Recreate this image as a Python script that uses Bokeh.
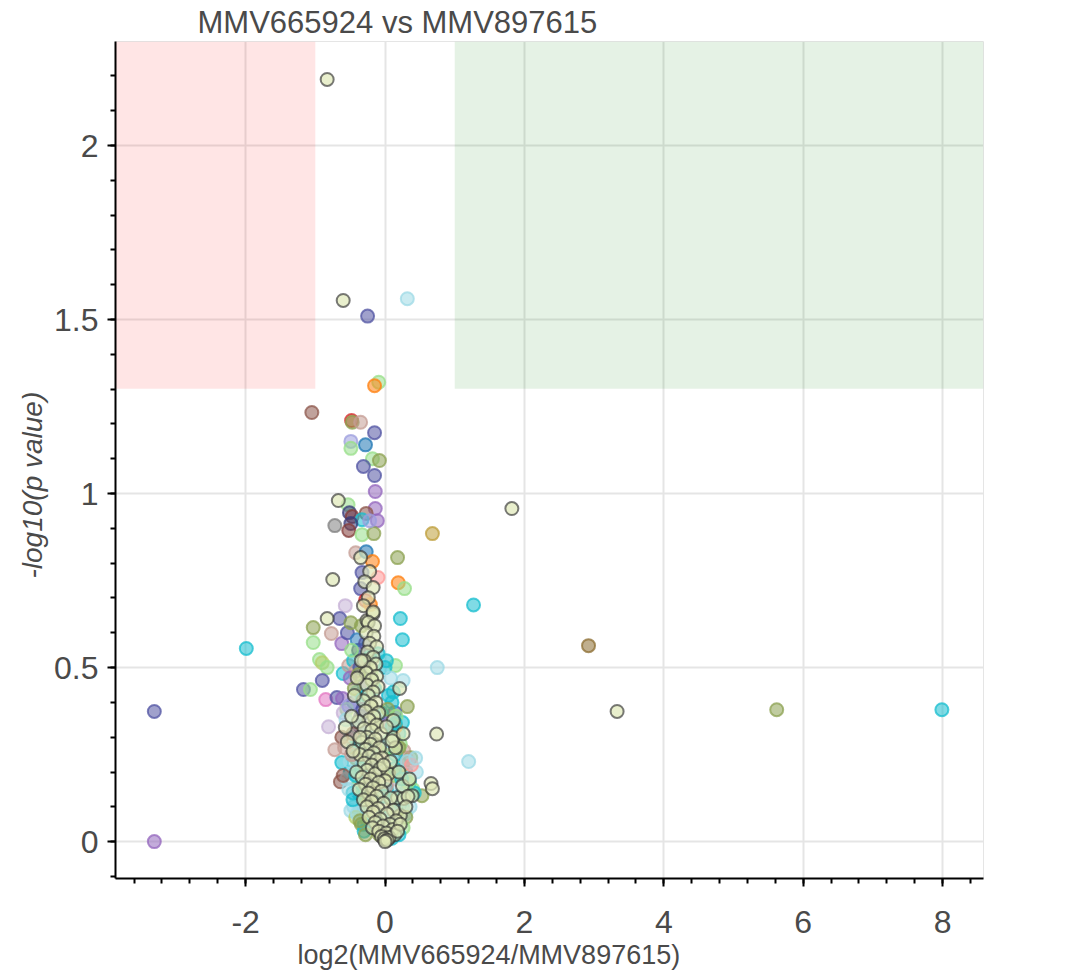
from bokeh.plotting import figure
from bokeh.models import BoxAnnotation, Range1d, ColumnDataSource, Title, CustomJSTickFormatter
from bokeh.embed import file_html
from bokeh.resources import INLINE

# palette keys
COLORS = {
    "indigo": "#5254a3", "navy": "#393b79", "lavender": "#9c9ede", "lilac": "#c5b0d5",
    "olive": "#8ca252", "lolive": "#b5cf6b", "dolive": "#637939",
    "gold": "#bd9e39", "dgold": "#8c6d31",
    "brown": "#8c564b", "lbrown": "#c49c94", "dbrown": "#843c39",
    "red": "#d62728", "orange": "#ff7f0e", "lgreen": "#98df8a", "blue": "#1f77b4",
    "purple": "#9467bd", "pink": "#e377c2", "lred": "#ff9896", "gray": "#7f7f7f",
    "cyan": "#17becf", "lcyan": "#9edae5", "teal": "#3182bd",
}

# coloured proteins: log2 ratio, -log10 p, colour key
pts_x = [0.32, -0.25, -0.09, -0.15, -1.05, -0.48, -0.47, -0.35, -0.15, -0.49,
         -0.49, -0.28, -0.18, -0.08, -0.31, -0.15, -0.14, -0.14, -0.53, -0.51,
         -0.47, -0.27, -0.33, -0.11, -0.72, -0.49, -0.52, -0.33, -0.16, -0.22,
         0.68, -0.42, -0.27, -0.18, 0.18, -0.33, -0.10, 0.19, 0.28, -0.35,
         -0.57, -0.28, -0.21, -0.65, -1.03, -1.03, -0.77, -0.62, -0.54, -0.49,
         0.22, 0.25, -0.94, -0.90, -0.83, 0.15, 0.75, -0.90, -1.17, -1.07,
         -0.85, -0.69, -0.61, -0.60, -0.52, 0.26, 0.32, 0.14, 0.25, -0.81,
         -0.72, -0.62, 0.27, 0.37, -0.64, -0.22, 0.53, -0.49, -0.11, -3.31,
         -3.31, -1.99, 1.27, 2.92, 5.62, 7.99, 1.20,
         -0.45, -0.35, -0.42, -0.50, -0.30, 0.00, -0.20, -0.10, -0.25, -0.38,
         0.05, -0.05, -0.45, -0.55, -0.35, -0.60, -0.15, -0.20, -0.40, 0.10,
         0.20, -0.50, -0.62, -0.10, -0.35, 0.10, 0.15, -0.45, 0.00, -0.25, 0.05,
         -0.50, -0.55, -0.40, 0.30, 0.35, 0.40, 0.25, -0.30, 0.30, 0.15,
         -0.60, -0.25, 0.15, 0.45, -0.20,
         -0.30, -0.35, 0.25, 0.30, -0.20, 0.10, -0.20, -0.25, 0.20, -0.45,
         0.15, -0.15, 0.05, 0.10, -0.08, 0.18, -0.38, 0.22, -0.12, 0.02,
         -0.56, -0.44, 0.12, -0.28, -0.05, 0.08, -0.33, 0.28, -0.16, 0.06,
         -0.40, -0.48, -0.36, -0.44, -0.32, -0.52, -0.40, -0.46, -0.30, -0.58,
         -0.42, -0.34, -0.50, -0.28, -0.38, -0.46, -0.24, -0.36, -0.42, -0.30,
         0.02, 0.08, 0.12, 0.04, 0.16, 0.10, 0.06, 0.20, 0.14, 0.02,
         -0.02, 0.09, 0.18, 0.24, 0.12, 0.28, 0.22, 0.05, 0.32, 0.15,
         -0.34, -0.28, -0.22, -0.38, -0.18, -0.26, -0.32, -0.14, -0.24, -0.20,
         -0.52, -0.46, -0.40, -0.34, -0.30, 0.36, 0.42, 0.30, 0.26, 0.38,
         -0.48, -0.42, 0.33, 0.44, 0.20, -0.36, 0.24, 0.16, -0.28, 0.10]
pts_y = [1.56, 1.51, 1.32, 1.31, 1.233, 1.21, 1.205, 1.205, 1.175, 1.15,
         1.13, 1.14, 1.10, 1.095, 1.078, 1.052, 1.006, 0.957, 0.968, 0.945,
         0.934, 0.943, 0.925, 0.922, 0.908, 0.914, 0.894, 0.882, 0.885, 0.922,
         0.885, 0.83, 0.833, 0.805, 0.816, 0.773, 0.759, 0.744, 0.727, 0.727,
         0.678, 0.693, 0.681, 0.641, 0.615, 0.572, 0.598, 0.569, 0.60, 0.629,
         0.641, 0.58, 0.523, 0.514, 0.50, 0.506, 0.50, 0.463, 0.437, 0.437,
         0.408, 0.414, 0.411, 0.483, 0.506, 0.463, 0.388, 0.371, 0.342, 0.33,
         0.264, 0.227, 0.261, 0.241, 0.172, 0.161, 0.132, 0.089, 0.06, 0.374,
         0.0, 0.555, 0.68, 0.563, 0.379, 0.379, 0.23,
         0.52, 0.53, 0.49, 0.47, 0.45, 0.50, 0.48, 0.54, 0.52, 0.55,
         0.42, 0.37, 0.40, 0.38, 0.36, 0.37, 0.44, 0.39, 0.43, 0.40,
         0.31, 0.30, 0.30, 0.28, 0.33, 0.30, 0.33, 0.27, 0.26, 0.30, 0.34,
         0.20, 0.18, 0.22, 0.20, 0.17, 0.15, 0.22, 0.17, 0.24, 0.18,
         0.19, 0.20, 0.25, 0.20, 0.24,
         0.10, 0.13, 0.10, 0.08, 0.12, 0.12, 0.08, 0.06, 0.13, 0.10,
         0.06, 0.04, 0.03, 0.09, 0.02, 0.16, 0.14, 0.28, 0.21, 0.15,
         0.35, 0.26, 0.19, 0.12, 0.07, 0.05, 0.22, 0.14, 0.18, 0.27,
         0.58, 0.55, 0.50, 0.44, 0.41, 0.39, 0.34, 0.31, 0.29, 0.27,
         0.24, 0.21, 0.23, 0.18, 0.16, 0.14, 0.11, 0.09, 0.07, 0.05,
         0.52, 0.47, 0.43, 0.38, 0.36, 0.33, 0.29, 0.27, 0.21, 0.16,
         0.13, 0.07, 0.09, 0.12, 0.04, 0.16, 0.11, 0.20, 0.23, 0.34,
         0.62, 0.57, 0.53, 0.48, 0.46, 0.42, 0.38, 0.34, 0.31, 0.26,
         0.15, 0.12, 0.08, 0.05, 0.03, 0.10, 0.14, 0.07, 0.04, 0.22,
         0.25, 0.19, 0.17, 0.24, 0.02, 0.06, 0.18, 0.11, 0.02, 0.01]
pts_c = ["lcyan", "indigo", "lgreen", "orange", "brown", "red", "olive", "lbrown", "indigo", "lavender",
         "lgreen", "blue", "lgreen", "olive", "indigo", "indigo", "purple", "purple", "lgreen", "navy",
         "dbrown", "brown", "cyan", "purple", "gray", "navy", "dbrown", "lgreen", "olive", "lavender",
         "gold", "lbrown", "blue", "orange", "olive", "indigo", "lred", "orange", "lgreen", "indigo",
         "lilac", "red", "orange", "indigo", "olive", "lgreen", "lbrown", "purple", "indigo", "olive",
         "cyan", "cyan", "lgreen", "lolive", "lgreen", "lgreen", "lcyan", "indigo", "indigo", "lgreen",
         "pink", "indigo", "purple", "cyan", "lbrown", "lcyan", "olive", "indigo", "cyan", "lilac",
         "lbrown", "cyan", "lbrown", "olive", "brown", "gold", "olive", "lcyan", "gold", "indigo",
         "purple", "cyan", "cyan", "dgold", "olive", "cyan", "lcyan",
         "cyan", "lcyan", "lbrown", "purple", "indigo", "cyan", "lgreen", "cyan", "olive", "navy",
         "cyan", "cyan", "indigo", "lgreen", "indigo", "lilac", "cyan", "olive", "lcyan", "cyan",
         "cyan", "lcyan", "brown", "olive", "indigo", "lgreen", "orange", "cyan", "lbrown", "cyan", "purple",
         "cyan", "lcyan", "lcyan", "cyan", "cyan", "lgreen", "olive", "indigo", "lbrown", "lred",
         "brown", "gold", "cyan", "lcyan", "navy",
         "cyan", "lcyan", "cyan", "lcyan", "olive", "olive", "gold", "lgreen", "cyan", "lcyan",
         "cyan", "dolive", "cyan", "lbrown", "olive", "lcyan", "cyan", "lgreen", "indigo", "cyan",
         "lcyan", "cyan", "lolive", "olive", "cyan", "lcyan", "lcyan", "cyan", "olive", "lgreen",
         "teal", "lgreen", "indigo", "olive", "cyan", "lavender", "lcyan", "brown", "cyan", "lbrown",
         "olive", "cyan", "lcyan", "indigo", "lgreen", "cyan", "olive", "lcyan", "lolive", "cyan",
         "cyan", "lcyan", "cyan", "olive", "lgreen", "cyan", "lcyan", "olive", "cyan", "lbrown",
         "cyan", "lcyan", "olive", "cyan", "lgreen", "lcyan", "cyan", "olive", "lcyan", "cyan",
         "olive", "indigo", "cyan", "olive", "lgreen", "cyan", "indigo", "olive", "lcyan", "cyan",
         "lcyan", "cyan", "lcyan", "olive", "cyan", "lcyan", "cyan", "olive", "lgreen", "lred",
         "lbrown", "cyan", "lgreen", "lcyan", "cyan", "olive", "cyan", "lcyan", "olive", "cyan"]

# highlighted proteins (outlined)
hl_x = [-0.83, -0.60, -0.67, 1.82, 3.33, 0.74, 0.66, 0.68,
        -0.35, -0.22, -0.75, -0.29, -0.17, -0.24, -0.31, -0.83, -0.26, -0.17,
        0.21, 0.12, -0.57, 0.12, -0.54, 0.05, 0.18, 0.27, 0.39, 0.22, 0.05,
        -0.17, -0.24, -0.15, -0.27, -0.16, -0.22, -0.12, -0.25, -0.17, -0.30,
        -0.13, -0.21, -0.27, -0.12, -0.19, -0.26, -0.10, -0.17, -0.24, -0.31,
        -0.13, -0.20, -0.28, -0.09, -0.16, -0.23, -0.38, -0.12, -0.30, -0.19,
        -0.06, -0.26, -0.14, -0.33, -0.21, -0.08, -0.28, -0.16, -0.36, -0.23,
        -0.04, -0.12, -0.30, -0.19, -0.07, -0.26, -0.41, -0.14, -0.33, -0.21,
        0.00, -0.09, -0.28, -0.17, -0.37, -0.05, -0.24, -0.12, 0.08, -0.31,
        -0.19, -0.02, -0.26, -0.10, 0.12, -0.17, 0.03, -0.23, -0.07, 0.16,
        -0.14, 0.07, -0.03, -0.18, 0.11, -0.09, 0.02, 0.14, -0.05, 0.06,
        -0.01, 0.03, 0.00, 0.20, 0.25, 0.33, 0.15, 0.08, 0.30, 0.22, 0.18, 0.35,
        -0.44, -0.36, -0.46, -0.40, 0.02, 0.10, -0.02, 0.26, -0.48, -0.34]
hl_y = [2.19, 1.555, 0.98, 0.957, 0.374, 0.309, 0.167, 0.152,
        0.816, 0.776, 0.753, 0.747, 0.73, 0.701, 0.678, 0.641, 0.635, 0.655,
        0.44, 0.348, 0.328, 0.299, 0.287, 0.195, 0.126, 0.124, 0.132, 0.075, 0.011,
        0.66, 0.63, 0.62, 0.60, 0.59, 0.57, 0.56, 0.545, 0.53, 0.52,
        0.51, 0.50, 0.485, 0.475, 0.465, 0.45, 0.445, 0.43, 0.42, 0.405,
        0.40, 0.39, 0.375, 0.37, 0.36, 0.35, 0.345, 0.335, 0.325, 0.32,
        0.31, 0.30, 0.295, 0.285, 0.28, 0.27, 0.265, 0.255, 0.25, 0.245,
        0.24, 0.235, 0.225, 0.22, 0.21, 0.205, 0.20, 0.195, 0.185, 0.18,
        0.175, 0.17, 0.165, 0.155, 0.15, 0.145, 0.14, 0.13, 0.125, 0.12,
        0.115, 0.11, 0.10, 0.095, 0.09, 0.085, 0.08, 0.07, 0.065, 0.06,
        0.055, 0.05, 0.045, 0.04, 0.035, 0.03, 0.025, 0.02, 0.015, 0.012,
        0.008, 0.004, 0.0, 0.20, 0.16, 0.13, 0.27, 0.23, 0.10, 0.05, 0.03, 0.18,
        0.42, 0.30, 0.26, 0.47, 0.33, 0.29, 0.22, 0.31, 0.36, 0.52]

title_text = "MMV665924 vs MMV897615"
x_label = "log2(MMV665924/MMV897615)"
y_label = "-log10(p value)"
p_threshold = 1.301   # -log10(0.05)
fc_threshold = 1.0

FONT = "Liberation Sans"
TXT = "#4a4a4a"

p = figure(width=1048, height=975, output_backend="svg", toolbar_location=None,
           x_range=Range1d(-3.867, 8.587), y_range=Range1d(-0.106, 2.299),
           min_border_left=115, min_border_right=65, min_border_top=41, min_border_bottom=97)

p.title.text = title_text
p.title.text_font = FONT
p.title.text_font_size = "31px"
p.title.text_font_style = "normal"
p.title.text_color = TXT
p.title.align = "left"
p.title.offset = 82
p.title.standoff = 3

p.add_layout(BoxAnnotation(right=-fc_threshold, bottom=p_threshold, fill_color="red",
                           fill_alpha=0.1, line_color=None, level="underlay"))
p.add_layout(BoxAnnotation(left=fc_threshold, bottom=p_threshold, fill_color="green",
                           fill_alpha=0.1, line_color=None, level="underlay"))

cols = [COLORS[c] for c in pts_c]
src = ColumnDataSource(dict(x=pts_x, y=pts_y, c=cols))
p.scatter("x", "y", source=src, size=13, fill_color="c", line_color="c",
          fill_alpha=0.55, line_alpha=0.75, line_width=2)
hsrc = ColumnDataSource(dict(x=hl_x, y=hl_y))
p.scatter("x", "y", source=hsrc, size=13, fill_color="#dfe8b8", fill_alpha=0.7,
          line_color="#333333", line_alpha=0.65, line_width=2)

p.outline_line_color = "#e5e5e5"
p.grid.grid_line_color = "#e5e5e5"
p.grid.grid_line_width = 2

fmt_code = "return parseFloat(tick.toFixed(3)).toString();"
for ax in (p.xaxis[0], p.yaxis[0]):
    ax.formatter = CustomJSTickFormatter(code=fmt_code)
    ax.axis_line_color = "black"
    ax.axis_line_width = 2
    ax.major_tick_line_color = "black"
    ax.minor_tick_line_color = "black"
    ax.major_tick_line_width = 2
    ax.minor_tick_line_width = 2
    ax.major_tick_in = 0
    ax.major_tick_out = 8
    ax.minor_tick_in = 0
    ax.minor_tick_out = 5
    ax.major_label_text_font = FONT
    ax.major_label_text_font_size = "32px"
    ax.major_label_text_color = TXT

p.xaxis.major_label_standoff = 24
p.yaxis.major_label_standoff = 9

xt = Title(text=x_label, align="left", offset=182, text_font=FONT, text_font_size="27px",
           text_font_style="normal", text_color=TXT, standoff=5)
p.add_layout(xt, "below")

yt = Title(text=y_label, align="left", offset=300, text_font=FONT, text_font_size="28px",
           text_font_style="italic", text_color=TXT, standoff=8)
p.add_layout(yt, "left")

open("out.html", "w").write(file_html(p, INLINE))
